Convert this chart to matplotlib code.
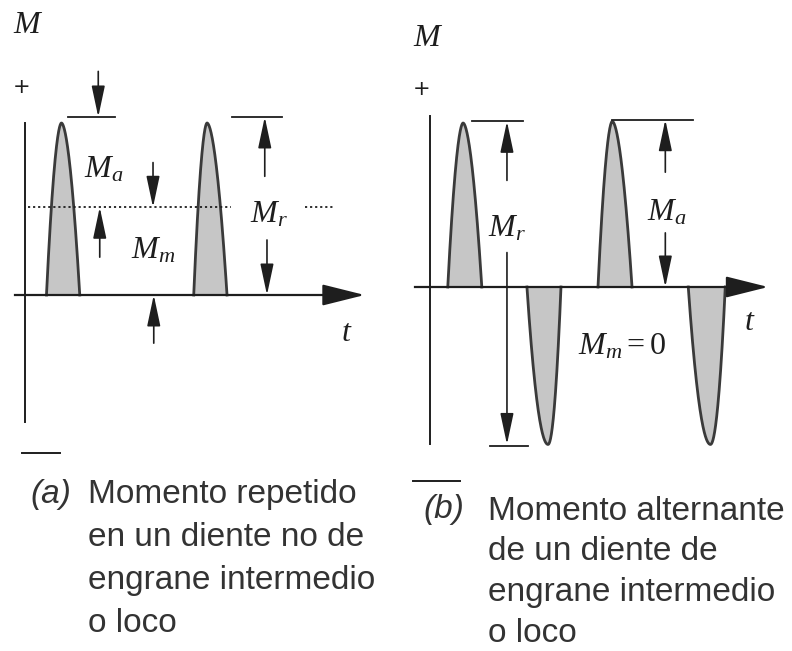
import numpy as np
import matplotlib
matplotlib.use("Agg")
import matplotlib.pyplot as plt

plt.rcParams["mathtext.fontset"] = "custom"
plt.rcParams["mathtext.it"] = "Liberation Serif:italic"
plt.rcParams["mathtext.rm"] = "Liberation Serif"

W, H = 792, 651
INK = "#1e1e1e"
FILL = "#c6c6c6"
CAPTION_FONT = ["Liberation Sans", "DejaVu Sans"]

# panel (a): moment repeated, pulses only positive
a_start = [0.29, 2.28]     # t where each pulse begins
a_width = [0.45, 0.45]
a_peak = [1.0, 1.0]
a_skew = [0.45, 0.40]      # where the peak sits inside the pulse (0..1)
a_mean = 0.51              # M_m

# panel (b): moment alternating, M_m = 0
b_start = [0.24, 1.31, 2.27, 3.49]
b_width = [0.46, 0.46, 0.46, 0.50]
b_peak = [1.0, -0.96, 1.01, -0.96]
b_skew = [0.45, 0.62, 0.42, 0.60]

cap_a = ["Momento repetido", "en un diente no de", "engrane intermedio", "o loco"]
cap_b = ["Momento alternante", "de un diente de", "engrane intermedio", "o loco"]


def pulse(t0, w, amp, skew, p=1.6, n=200):
    t = np.linspace(t0, t0 + w, n)
    tp = t0 + skew * w
    x = np.where(t < tp, (t - tp) / (tp - t0), (t - tp) / (t0 + w - tp))
    return t, amp * (1 - np.abs(x) ** p)


def panel_axes(fig, ox, oy, sx, sy):
    # full-figure axes whose data origin lands on pixel (ox, oy)
    ax = fig.add_axes([0, 0, 1, 1])
    ax.set_xlim(-ox / sx, (W - ox) / sx)
    ax.set_ylim(-(H - oy) / sy, oy / sy)
    ax.axis("off")
    ax.patch.set_alpha(0)
    return ax


def arrow(ax, x, y0, y1):
    ax.annotate("", xy=(x, y1), xytext=(x, y0),
                arrowprops=dict(arrowstyle="-|>,head_length=1.6,head_width=0.34",
                                mutation_scale=12, lw=1.2, color=INK,
                                shrinkA=0, shrinkB=0))


def axes_lines(ax, top, bottom, left, right):
    ax.plot([0, 0], [bottom, top], color=INK, lw=1.4)
    ax.plot([left, right - 0.2], [0, 0], color=INK, lw=1.6)
    ax.annotate("", xy=(right, 0), xytext=(right - 0.3, 0),
                arrowprops=dict(arrowstyle="-|>,head_length=2.2,head_width=0.55",
                                mutation_scale=12, lw=1.6, color=INK,
                                shrinkA=0, shrinkB=0))


def draw_pulses(ax, starts, widths, peaks, skews):
    for t0, w, amp, sk in zip(starts, widths, peaks, skews):
        t, m = pulse(t0, w, amp, sk, p=1.8 if amp > 0 else 2.0)
        ax.fill_between(t, 0, m, color=FILL, lw=0)
        ax.plot(t, m, color="#3a3a3a", lw=2.0)


fig = plt.figure(figsize=(W / 100, H / 100), dpi=100)
fig.patch.set_facecolor("white")
mfs = 23

# ---- panel (a)
ax = panel_axes(fig, 25, 295, 74, 172)
draw_pulses(ax, a_start, a_width, a_peak, a_skew)
axes_lines(ax, 1.0, -0.74, -0.14, 4.59)
ax.plot([0.04, 2.78], [a_mean, a_mean], ls=(0, (1.2, 1.6)), color=INK, lw=1.3)
ax.plot([3.78, 4.19], [a_mean, a_mean], ls=(0, (1.2, 1.6)), color=INK, lw=1.3)
ax.plot([0.58, 1.22], [1.035, 1.035], color=INK, lw=1.3)
ax.plot([2.80, 3.47], [1.035, 1.035], color=INK, lw=1.3)
arrow(ax, 0.99, 1.30, 1.035)
arrow(ax, 1.73, 0.77, a_mean)
arrow(ax, 1.01, 0.22, a_mean)
arrow(ax, 1.74, -0.28, 0.0)
arrow(ax, 3.24, 0.69, 1.035)
arrow(ax, 3.27, 0.32, 0.0)
ax.text(1.07, 0.73, r"$M_a$", fontsize=mfs, ha="center", va="center", color=INK)
ax.text(1.73, 0.26, r"$M_m$", fontsize=mfs, ha="center", va="center", color=INK)
ax.text(3.30, 0.47, r"$M_r$", fontsize=mfs, ha="center", va="center", color=INK)
ax.text(4.35, -0.22, r"$t$", fontsize=mfs, ha="center", va="center", color=INK)
ax.text(0.04, 1.57, r"$M$", fontsize=mfs, ha="center", va="center", color=INK)
ax.text(-0.04, 1.21, "+", fontsize=15, ha="center", va="center", color=INK)
ax.plot([-0.04, 0.47], [-0.92, -0.92], color=INK, lw=1.4)

# ---- panel (b)
bx = panel_axes(fig, 430, 287, 74, 164)
draw_pulses(bx, b_start, b_width, b_peak, b_skew)
axes_lines(bx, 1.04, -0.96, -0.2, 4.57)
bx.plot([0.57, 1.26], [1.01, 1.01], color=INK, lw=1.3)
bx.plot([0.81, 1.32], [-0.97, -0.97], color=INK, lw=1.3)
bx.plot([2.46, 3.55], [1.02, 1.02], color=INK, lw=1.3)
arrow(bx, 1.04, 0.65, 1.01)
arrow(bx, 1.04, 0.21, -0.96)
arrow(bx, 3.18, 0.70, 1.02)
arrow(bx, 3.18, 0.33, 0.0)
bx.text(1.04, 0.36, r"$M_r$", fontsize=mfs, ha="center", va="center", color=INK)
bx.text(3.20, 0.46, r"$M_a$", fontsize=mfs, ha="center", va="center", color=INK)
bx.text(2.59, -0.36, r"$M_m = 0$", fontsize=mfs, ha="center", va="center", color=INK)
bx.text(4.32, -0.21, r"$t$", fontsize=mfs, ha="center", va="center", color=INK)
bx.text(-0.03, 1.52, r"$M$", fontsize=mfs, ha="center", va="center", color=INK)
bx.text(-0.11, 1.21, "+", fontsize=15, ha="center", va="center", color=INK)
bx.plot([-0.23, 0.41], [-1.18, -1.18], color=INK, lw=1.4)

# ---- captions
cfs = 24
CAP = "#333333"
fig.text(30 / W, 1 - 503 / H, "(a)", fontsize=cfs, style="italic", family=CAPTION_FONT,
         color=CAP, va="baseline")
for i, line in enumerate(cap_a):
    fig.text(88 / W, 1 - (503 + 43 * i) / H, line, fontsize=cfs, family=CAPTION_FONT,
             color=CAP, va="baseline")
fig.text(423 / W, 1 - 518 / H, "(b)", fontsize=cfs, style="italic", family=CAPTION_FONT,
         color=CAP, va="baseline")
for i, line in enumerate(cap_b):
    fig.text(488 / W, 1 - (520 + 40.5 * i) / H, line, fontsize=cfs, family=CAPTION_FONT,
             color=CAP, va="baseline")

fig.savefig("out.png", dpi=100, facecolor="white")
